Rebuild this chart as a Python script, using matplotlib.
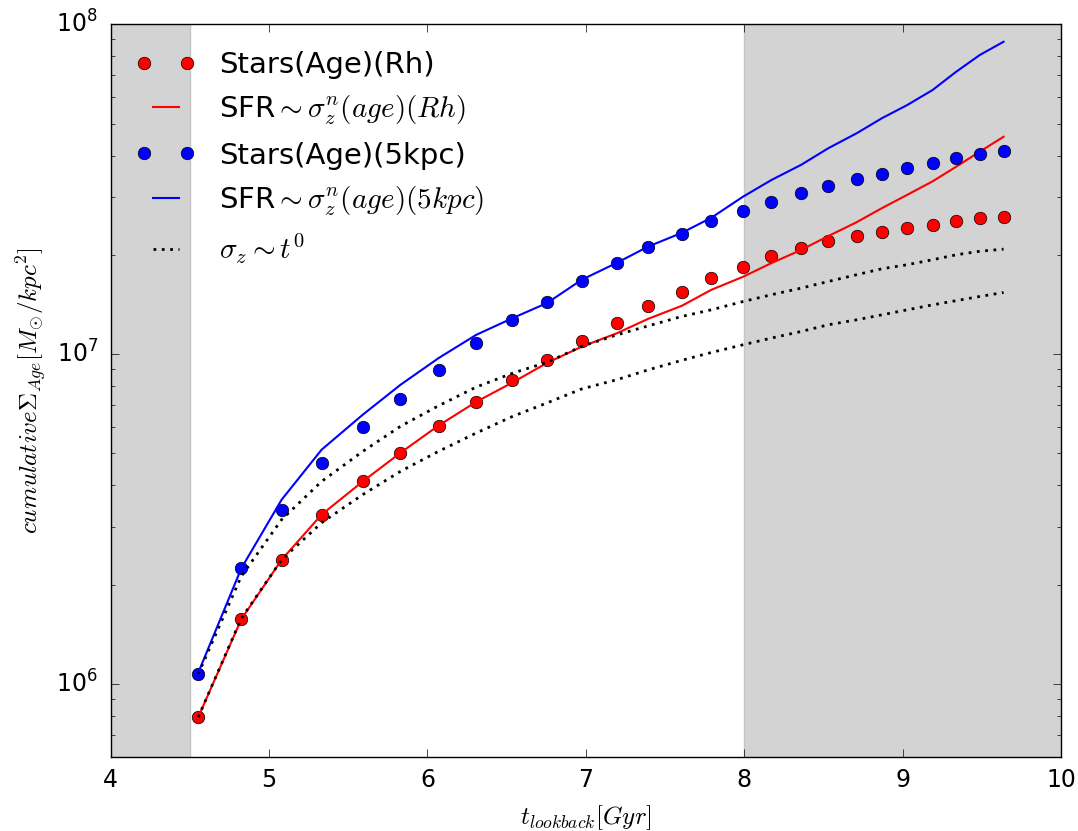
import numpy as np
import matplotlib
matplotlib.use('Agg')
import matplotlib.pyplot as plt
from matplotlib.legend_handler import HandlerLine2D

# lookback time of each snapshot [Gyr]
t_lookback = [4.553, 4.825, 5.080, 5.332, 5.592, 5.830, 6.070, 6.307, 6.537, 6.755,
              6.974, 7.195, 7.395, 7.605, 7.792, 7.992, 8.171, 8.360, 8.531, 8.709,
              8.869, 9.029, 9.189, 9.338, 9.487, 9.637]

# cumulative surface density [Msun/kpc^2]
stars_rh = [7.92e5, 1.57e6, 2.38e6, 3.25e6, 4.11e6, 5.02e6, 6.07e6, 7.16e6, 8.34e6, 9.59e6,
            1.097e7, 1.241e7, 1.398e7, 1.541e7, 1.70e7, 1.84e7, 1.98e7, 2.09e7, 2.20e7, 2.28e7,
            2.35e7, 2.41e7, 2.47e7, 2.53e7, 2.58e7, 2.61e7]
sfr_rh = [7.92e5, 1.57e6, 2.38e6, 3.26e6, 4.11e6, 5.02e6, 6.07e6, 7.16e6, 8.2e6, 9.4e6,
          1.053e7, 1.156e7, 1.28e7, 1.40e7, 1.566e7, 1.715e7, 1.887e7, 2.07e7, 2.28e7, 2.51e7,
          2.77e7, 3.04e7, 3.34e7, 3.70e7, 4.11e7, 4.56e7]
stars_5kpc = [1.072e6, 2.24e6, 3.37e6, 4.67e6, 5.99e6, 7.33e6, 8.97e6, 1.084e7, 1.27e7, 1.442e7,
              1.667e7, 1.882e7, 2.11e7, 2.32e7, 2.54e7, 2.72e7, 2.90e7, 3.07e7, 3.24e7, 3.39e7,
              3.52e7, 3.67e7, 3.80e7, 3.93e7, 4.05e7, 4.13e7]
sfr_5kpc = [1.08e6, 2.24e6, 3.62e6, 5.13e6, 6.55e6, 8.07e6, 9.72e6, 1.143e7, 1.285e7, 1.428e7,
            1.68e7, 1.89e7, 2.12e7, 2.33e7, 2.59e7, 3.00e7, 3.37e7, 3.75e7, 4.21e7, 4.67e7,
            5.19e7, 5.69e7, 6.32e7, 7.18e7, 8.07e7, 8.85e7]
# constant sigma_z models
const_5kpc = [1.07e6, 2.12e6, 3.15e6, 4.11e6, 5.07e6, 6.04e6, 6.97e6, 7.94e6, 8.75e6, 9.44e6,
              1.055e7, 1.143e7, 1.218e7, 1.30e7, 1.362e7, 1.443e7, 1.513e7, 1.585e7, 1.66e7, 1.74e7,
              1.814e7, 1.866e7, 1.932e7, 2.00e7, 2.05e7, 2.08e7]
const_rh = [7.92e5, 1.58e6, 2.38e6, 3.08e6, 3.75e6, 4.41e6, 5.07e6, 5.76e6, 6.47e6, 7.11e6,
            7.84e6, 8.36e6, 8.96e6, 9.57e6, 1.011e7, 1.067e7, 1.118e7, 1.171e7, 1.227e7, 1.27e7,
            1.315e7, 1.362e7, 1.41e7, 1.452e7, 1.495e7, 1.537e7]

plt.style.use('classic')
plt.rcParams['xtick.major.size'] = 6
plt.rcParams['ytick.major.size'] = 6
plt.rcParams['ytick.minor.size'] = 3
plt.rcParams['xtick.minor.size'] = 3

fig = plt.figure(figsize=(10.78, 8.31), dpi=100, facecolor='white')
ax = fig.add_axes([0.1026, 0.089, 0.8817, 0.8818])

ax.axvspan(4, 4.5, facecolor='lightgrey', edgecolor='#c4c4c4', lw=1, zorder=0)
ax.axvspan(8, 10, facecolor='lightgrey', edgecolor='#c4c4c4', lw=1, zorder=0)

dots = (0, (2, 4))
p1, = ax.plot(t_lookback, stars_rh, 'o', color='red', mec='black', ms=9, label='Stars(Age)(Rh)')
ax.plot(t_lookback, sfr_rh, '-', color='red', lw=1.5, label=r'SFR$\sim\sigma_z^n(age)(Rh)$')
p2, = ax.plot(t_lookback, stars_5kpc, 'o', color='blue', mec='black', ms=9, label='Stars(Age)(5kpc)')
ax.plot(t_lookback, sfr_5kpc, '-', color='blue', lw=1.5, label=r'SFR$\sim\sigma_z^n(age)(5kpc)$')
ax.plot(t_lookback, const_5kpc, ls=dots, color='k', lw=2, label=r'$\sigma_z\sim t^0$')
ax.plot(t_lookback, const_rh, ls=dots, color='k', lw=2)

ax.set_yscale('log')
ax.set_xlim(4, 10)
ax.set_ylim(6e5, 1e8)
ax.tick_params(labelsize=17)
ax.tick_params(axis='y', pad=9)
ax.tick_params(axis='x', pad=8)
ax.set_xlabel(r'$t_{lookback}[Gyr]$', fontsize=18, labelpad=8)
ax.set_ylabel(r'$cumulative\Sigma_{Age}[M_{\odot}/kpc^2]$', fontsize=18)

hm = {p1: HandlerLine2D(numpoints=2, marker_pad=0), p2: HandlerLine2D(numpoints=2, marker_pad=0)}
ax.legend(loc='upper left', bbox_to_anchor=(0.0095, 0.9973), frameon=False, fontsize=21,
          numpoints=2, handler_map=hm, handlelength=1.47, handletextpad=1.1, borderaxespad=0.45)

fig.savefig('out.png', dpi=100, facecolor='white')
